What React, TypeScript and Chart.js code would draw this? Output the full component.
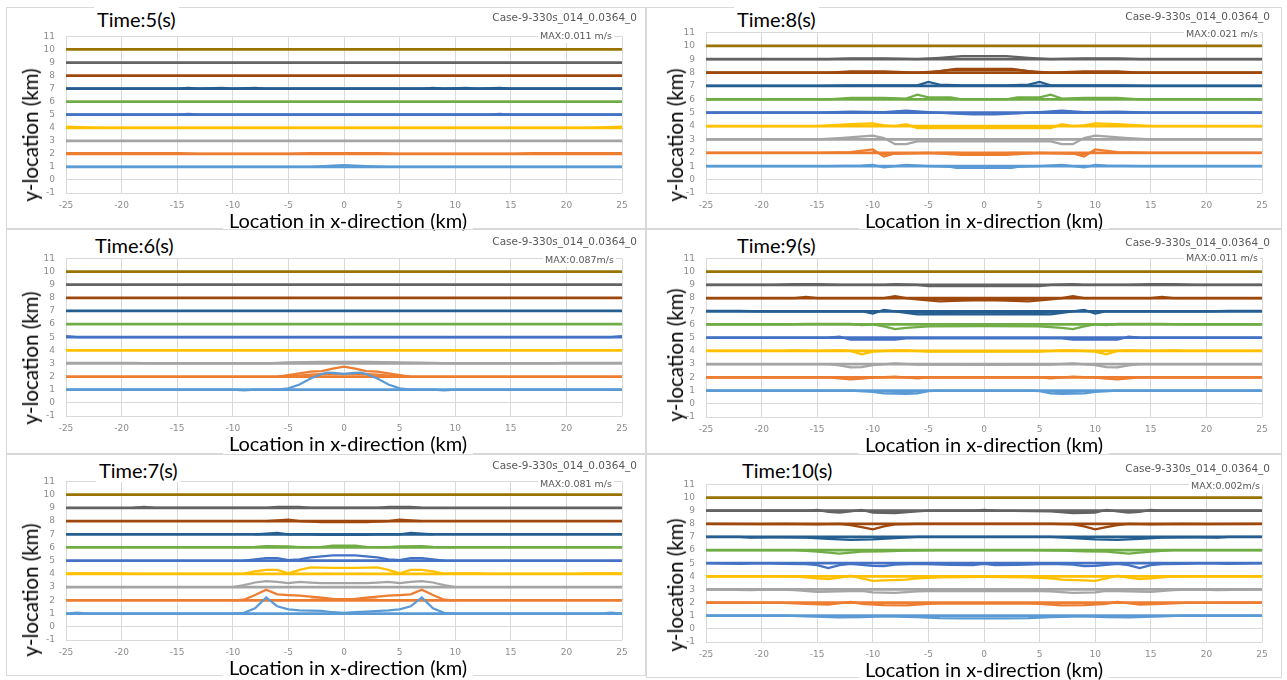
import React, { useEffect, useRef } from "react";
import { Chart, registerables } from "chart.js";
Chart.register(...registerables);

type Pt = [number, number];

// ---------- data ----------
const levels = [1, 2, 3, 4, 5, 6, 7, 8, 9, 10];
const levelColors = ["#5B9BD5", "#ED7D31", "#A5A5A5", "#FFC000", "#4472C4", "#70AD47", "#255E91", "#9E480E", "#636363", "#997300"];
const xMin = -25, xMax = 25, xStep = 5;
const yMin = -1, yMax = 11, yStep = 1;
const caseLabel = "Case-9-330s_014_0.0364_0";
const xTitle = "Location in x-direction (km)";
const yTitle = "y-location (km)";

// deformed interface curves for each level (index 0 = level 1)
const time5: Pt[][][] = [
  [[[-25, 1], [-3, 1], [-1, 1.1], [0, 1.13], [2, 1.06], [4, 1], [25, 1]]],
  [[[-25, 2.05], [-15, 2.05], [-13, 2], [-5, 2], [-3, 2.05], [3, 2.05], [5, 2], [15, 2], [17, 2.05], [25, 2.05]]],
  [],
  [[[-25, 4.08], [-22, 4], [22, 4], [25, 4.08]]],
  [[[-25, 5], [-15, 5], [-14, 5.06], [-13, 5], [13, 5], [14, 5.06], [15, 5], [25, 5]]],
  [],
  [[[-25, 7], [-15, 7], [-14, 7.06], [-13, 7], [-11, 7.06], [-10, 7], [-8, 7.06], [-7, 7], [7, 7], [8, 7.06], [9, 7], [11, 7.06], [12, 7], [14, 7.06], [15, 7], [25, 7]]],
  [],
  [],
  [],
];

const time6: Pt[][][] = [
  [[[-25, 1], [-10, 1], [-9, 0.96], [-8, 1], [-6, 1], [-5, 1.1], [-4, 1.4], [-3, 1.85], [-2, 2.2], [-1.5, 2.3], [-1, 2.28], [0, 2.2], [1, 2.28], [1.5, 2.3], [2, 2.2], [3, 1.85], [4, 1.4], [5, 1.1], [6, 1], [8, 1], [9, 0.96], [10, 1], [25, 1]]],
  [
    [[-6, 2], [-5, 2.12], [-3, 2.38], [-2, 2.42], [-1, 2.6], [0, 2.75], [1, 2.6], [2, 2.42], [3, 2.38], [5, 2.12], [6, 2]],
    [[-5, 2], [-3, 2.15], [-1, 2.22], [0, 2.18], [1, 2.22], [3, 2.15], [5, 2]],
  ],
  [[[-25, 3.05], [-19, 3.05], [-17, 3], [-7, 3], [-5, 3.08], [-2, 3.12], [0, 3.12], [2, 3.12], [5, 3.08], [8, 3.05], [10, 3], [18, 3], [20, 3.05], [25, 3.05]]],
  [],
  [[[-25, 5.08], [-24, 5], [24, 5], [25, 5.08]]],
  [],
  [],
  [],
  [],
  [],
];

const time7: Pt[][][] = [
  [[[-25, 1], [-24, 1.08], [-23, 1], [-10, 1], [-9, 1.05], [-8, 1.4], [-7, 2.22], [-6, 1.55], [-5, 1.32], [-4, 1.25], [-2, 1.2], [-1, 1.1], [0, 1.05], [1, 1.1], [2, 1.15], [4, 1.25], [5, 1.32], [6, 1.55], [7, 2.22], [8, 1.4], [9, 1.05], [10, 1], [23, 1], [24, 1.08], [25, 1]]],
  [
    [[-10, 2], [-9, 2.05], [-8, 2.4], [-7, 2.8], [-6, 2.45], [-5, 2.4], [-4, 2.35], [-2, 2.2], [-1, 2.12], [0, 2.1], [1, 2.12], [2, 2.2], [4, 2.35], [5, 2.4], [6, 2.45], [7, 2.8], [8, 2.4], [9, 2.05], [10, 2]],
    [[-3, 2.05], [-1, 2.08], [1, 2.08], [3, 2.05]],
  ],
  [[[-10, 3], [-9, 3.15], [-8, 3.35], [-7, 3.45], [-6, 3.4], [-5, 3.3], [-4, 3.4], [-3, 3.35], [-2, 3.3], [0, 3.3], [2, 3.3], [3, 3.35], [4, 3.4], [5, 3.3], [6, 3.4], [7, 3.45], [8, 3.35], [9, 3.15], [10, 3]]],
  [[[-25, 4.05], [-20, 4.05], [-19, 4], [-10, 4], [-9, 4.02], [-8, 4.2], [-7, 4.3], [-6, 4.3], [-5, 4.05], [-4, 4.3], [-3, 4.5], [-1, 4.45], [0, 4.45], [1, 4.45], [3, 4.5], [4, 4.3], [5, 4.05], [6, 4.3], [7, 4.3], [8, 4.2], [9, 4.02], [10, 4.05], [12, 4.05], [13, 4], [21, 4], [22, 4.05], [25, 4.05]]],
  [[[-9, 5], [-7, 5.2], [-6, 5.2], [-5, 5.05], [-4, 5.1], [-3, 5.25], [-1, 5.4], [0, 5.4], [1, 5.4], [3, 5.25], [4, 5.1], [5, 5.05], [6, 5.2], [7, 5.2], [9, 5]]],
  [[[-10, 6], [-8, 6.05], [-7, 6.1], [-5, 6.08], [-4, 6.03], [-2, 6.05], [-1, 6.15], [1, 6.15], [2, 6.05], [4, 6.03], [5, 6.08], [7, 6.1], [8, 6.05], [10, 6]]],
  [[[-8, 7], [-6, 7.1], [-5, 7], [-3, 7], [-2, 6.95], [2, 6.95], [3, 7], [5, 7], [6, 7.1], [8, 7]]],
  [[[-7, 8], [-5, 8.1], [-4, 8], [-2, 7.92], [2, 7.92], [4, 8], [5, 8.1], [7, 8]]],
  [[[-19, 9], [-18, 9.08], [-17, 9], [-7, 9], [-6, 9.08], [-4, 9.08], [-3, 9], [3, 9], [4, 9.08], [6, 9.08], [7, 9]]],
  [],
];

const time8: Pt[][][] = [
  [
    [[-25, 1], [-14, 1], [-11, 1.05], [-10, 1.1], [-9, 0.92], [-8, 1.0], [-7, 1.1], [-5, 1.0], [-3, 0.95], [-2.5, 0.88], [2.5, 0.88], [3, 0.95], [5, 1], [7, 1.1], [8, 1.0], [9, 0.92], [10, 1.1], [11, 1.05], [14, 1], [25, 1]],
    [[-3, 1], [0, 0.95], [3, 1]],
  ],
  [
    [[-25, 2], [-15, 2], [-12, 2.05], [-10, 2.25], [-9, 1.72], [-8, 1.95], [-5, 2.0], [-2, 1.85], [2, 1.85], [5, 2.0], [8, 1.95], [9, 1.72], [10, 2.25], [12, 2.05], [15, 2], [25, 2]],
    [[-10, 2.1], [-9, 1.9], [-7, 1.97], [-3, 2.0], [0, 1.95], [3, 2.0], [7, 1.97], [9, 1.9], [10, 2.1]],
  ],
  [[[-25, 3], [-15, 3], [-13, 3.1], [-10, 3.28], [-9, 3.1], [-8, 2.65], [-7, 2.65], [-6, 2.85], [6, 2.85], [7, 2.65], [8, 2.65], [9, 3.1], [10, 3.28], [13, 3.1], [15, 3], [25, 3]]],
  [[[-25, 4], [-15, 4], [-12, 4.15], [-10, 4.2], [-9, 4.05], [-8, 4.0], [-7, 4.15], [-6, 3.85], [6, 3.85], [7, 4.15], [8, 4.0], [9, 4.05], [10, 4.2], [12, 4.15], [15, 4], [25, 4]]],
  [[[-25, 5], [-15, 5], [-12, 5.08], [-9, 5.05], [-7, 5.15], [-5, 5.05], [-3, 4.95], [-1, 4.88], [1, 4.88], [3, 4.95], [5, 5.05], [7, 5.15], [9, 5.05], [12, 5.08], [15, 5], [25, 5]]],
  [[[-25, 6], [-14, 6], [-12, 6.1], [-9, 6.1], [-7, 6.05], [-6, 6.35], [-5, 6.15], [-3, 6.15], [-2, 6], [2, 6], [3, 6.15], [5, 6.15], [6, 6.35], [7, 6.05], [9, 6.1], [12, 6.1], [14, 6], [25, 6]]],
  [[[-25, 7], [-15, 7], [-12, 7.05], [-9, 7.05], [-6, 7.05], [-5, 7.3], [-4, 7.1], [-2, 7.05], [2, 7.05], [4, 7.1], [5, 7.3], [6, 7.05], [9, 7.05], [12, 7.05], [15, 7], [25, 7]]],
  [
    [[-25, 8], [-14, 8], [-12, 8.08], [-9, 8.08], [-6, 8.0], [-4, 8.1], [-2.5, 8.28], [2.5, 8.28], [4, 8.1], [6, 8], [9, 8.08], [12, 8.08], [14, 8], [25, 8]],
    [[-5, 8], [-3, 8.2], [3, 8.2], [5, 8]],
  ],
  [[[-25, 9], [-14, 9], [-12, 9.05], [-9, 9.05], [-6, 9], [-4, 9.1], [-2, 9.22], [2, 9.22], [4, 9.1], [6, 9], [9, 9.05], [12, 9.05], [14, 9], [25, 9]]],
  [],
];

const time9: Pt[][][] = [
  [
    [[-25, 1], [-12, 1], [-10, 0.9], [-9, 0.78], [-7, 0.75], [-6, 0.78], [-5, 0.95], [-4, 1], [4, 1], [5, 0.95], [6, 0.78], [7, 0.75], [9, 0.78], [10, 0.9], [12, 1], [25, 1]],
    [[-10, 0.95], [-7, 0.88], [-5, 0.98]],
    [[5, 0.98], [7, 0.88], [10, 0.95]],
  ],
  [[[-25, 2], [-14, 2], [-12, 1.85], [-11, 1.9], [-10, 1.98], [-8, 2.05], [-6, 1.92], [-5, 2], [5, 2], [6, 1.92], [8, 2.05], [10, 1.98], [11, 1.9], [12, 1.85], [14, 2], [25, 2]]],
  [[[-25, 3], [-14, 3], [-13, 2.9], [-12, 2.75], [-11, 2.78], [-10, 2.93], [-8, 3.05], [-6, 2.97], [0, 2.95], [6, 2.97], [8, 3.05], [10, 2.93], [11, 2.78], [12, 2.75], [13, 2.9], [14, 3], [25, 3]]],
  [[[-25, 4], [-18, 4], [-17, 4.05], [-15, 4], [-13, 4.05], [-12, 4.0], [-11, 3.75], [-10, 3.95], [-8, 4.05], [-7, 4.05], [-5, 3.95], [0, 3.95], [5, 3.95], [7, 4.05], [8, 4.05], [10, 3.95], [11, 3.75], [12, 4.0], [13, 4.05], [15, 4], [17, 4.05], [18, 4], [25, 4]]],
  [[[-25, 4.98], [-14, 5], [-13, 5.08], [-12, 4.85], [-8, 4.85], [-7, 4.95], [7, 4.95], [8, 4.85], [12, 4.85], [13, 5.08], [14, 5], [25, 4.98]]],
  [[[-25, 6], [-18, 6], [-16, 6.05], [-12, 6.05], [-11, 5.95], [-10, 6.0], [-9, 5.85], [-8, 5.65], [-7, 5.75], [-5, 5.85], [0, 5.87], [5, 5.85], [7, 5.75], [8, 5.65], [9, 5.85], [10, 6.0], [11, 5.95], [12, 6.05], [16, 6.05], [18, 6], [25, 6]]],
  [
    [[-25, 7.03], [-22, 7.03], [-20, 7], [-11, 7], [-10, 6.82], [-9, 7.1], [-8, 7.0], [-6, 6.76], [6, 6.76], [8, 7.0], [9, 7.1], [10, 6.82], [11, 7], [20, 7], [22, 7.03], [25, 7.03]],
    [[-7, 6.95], [-5, 6.88], [0, 6.9], [5, 6.88], [7, 6.95]],
  ],
  [
    [[-25, 8], [-17, 8], [-16, 8.08], [-15, 8], [-9, 8], [-8, 8.15], [-7, 8.0], [-6, 7.9], [-4, 7.75], [-2, 7.8], [0, 7.85], [2, 7.8], [4, 7.75], [6, 7.9], [7, 8], [8, 8.15], [9, 8], [15, 8], [16, 8.08], [17, 8], [25, 8]],
    [[-6, 8], [-3, 7.88], [3, 7.88], [6, 8]],
  ],
  [[[-25, 9], [-19, 9], [-17, 9.05], [-15, 9.05], [-13, 9], [-9, 9], [-8, 9.05], [-6, 9], [-5, 8.9], [5, 8.9], [6, 9], [8, 9.05], [9, 9], [13, 9], [15, 9.05], [17, 9.05], [19, 9], [25, 9]]],
  [],
];

const time10: Pt[][][] = [
  [[[-25, 1], [-18, 1], [-16, 0.95], [-13, 0.88], [-11, 0.9], [-9, 0.95], [-6, 0.9], [-4, 0.82], [-2, 0.8], [2, 0.8], [4, 0.82], [6, 0.9], [9, 0.95], [11, 0.9], [13, 0.88], [16, 0.95], [18, 1], [25, 1]]],
  [[[-25, 2], [-18, 1.97], [-16, 1.9], [-14, 1.85], [-12, 2.05], [-11, 1.9], [-9, 1.8], [-7, 1.78], [-5, 1.9], [-3, 1.95], [0, 1.93], [3, 1.95], [5, 1.9], [7, 1.78], [9, 1.8], [11, 1.9], [12, 2.05], [14, 1.85], [16, 1.9], [18, 1.97], [25, 2]]],
  [[[-25, 3], [-21, 2.95], [-19, 3], [-17, 2.95], [-15, 2.82], [-13, 2.85], [-11, 2.9], [-10, 2.78], [-8, 2.75], [-6, 2.85], [-4, 2.9], [0, 2.88], [4, 2.9], [6, 2.85], [8, 2.75], [10, 2.78], [11, 2.9], [13, 2.85], [15, 2.82], [17, 2.95], [19, 3], [21, 2.95], [25, 3]]],
  [[[-25, 4], [-17, 4], [-15, 3.85], [-14, 3.78], [-13, 3.9], [-12, 4.05], [-11, 3.85], [-10, 3.65], [-9, 3.7], [-7, 3.75], [-6, 3.85], [-4, 3.92], [0, 3.95], [4, 3.92], [6, 3.85], [7, 3.75], [9, 3.7], [10, 3.65], [11, 3.85], [12, 4.05], [13, 3.9], [14, 3.78], [15, 3.85], [17, 4], [25, 4]]],
  [[[-25, 5], [-22, 4.95], [-20, 5], [-18, 4.95], [-16, 4.93], [-15, 4.85], [-14, 4.62], [-13, 4.85], [-12, 4.95], [-10, 4.8], [-9, 4.78], [-8, 4.9], [-6, 4.95], [-3, 4.88], [-1, 4.85], [0, 4.95], [1, 4.85], [3, 4.88], [6, 4.95], [8, 4.9], [9, 4.78], [10, 4.8], [12, 4.95], [13, 4.85], [14, 4.62], [15, 4.85], [16, 4.93], [18, 4.95], [20, 5], [22, 4.95], [25, 5]]],
  [[[-25, 6], [-17, 6], [-15, 5.88], [-13, 5.72], [-11, 5.88], [-9, 5.9], [-7, 5.95], [-4, 6], [4, 6], [7, 5.95], [9, 5.9], [11, 5.88], [13, 5.72], [15, 5.88], [17, 6], [25, 6]]],
  [[[-25, 7], [-22, 7], [-21, 6.95], [-19, 6.97], [-16, 6.95], [-14, 6.85], [-12, 6.78], [-10, 6.82], [-8, 6.9], [-6, 7], [6, 7], [8, 6.9], [10, 6.82], [12, 6.78], [14, 6.85], [16, 6.95], [19, 6.97], [21, 6.95], [22, 7], [25, 7]]],
  [[[-25, 8], [-20, 7.97], [-18, 8], [-15, 7.95], [-13, 8], [-12, 7.9], [-11, 7.75], [-10, 7.58], [-9, 7.8], [-8, 7.95], [-6, 8], [6, 8], [8, 7.95], [9, 7.8], [10, 7.58], [11, 7.75], [12, 7.9], [13, 8], [15, 7.95], [18, 8], [20, 7.97], [25, 8]]],
  [[[-25, 9], [-16, 9], [-15, 9.06], [-14, 8.9], [-13, 8.85], [-12, 8.95], [-11, 9.06], [-10, 8.85], [-8, 8.82], [-6, 8.95], [-5, 9], [-1, 9], [0, 9.06], [1, 9], [6, 8.95], [8, 8.82], [10, 8.85], [11, 9.06], [12, 8.95], [13, 8.85], [14, 8.9], [15, 9.06], [16, 9], [25, 9]]],
  [],
];

// ---------- layout ----------
type PanelCfg = {
  title: string; maxText: string; data: Pt[][][];
  L: number; R: number; T: number; B: number;
  boxL: number; boxT: number; boxW: number; boxH: number;
  titleX: number; titleY: number; caseR: number; caseY: number; maxR: number; maxY: number;
  yTitleX: number; yTitleY: number;
};

const panels: PanelCfg[] = [
  { title: "Time:5(s)", maxText: "MAX:0.011 m/s", data: time5, L: 66, R: 622, T: 29.5, B: 193, boxL: 6, boxT: 7, boxW: 640, boxH: 222, titleX: 97, titleY: 19, caseR: 637, caseY: 17, maxR: 614, maxY: 36, yTitleX: 30, yTitleY: 135 },
  { title: "Time:8(s)", maxText: "MAX:0.021 m/s", data: time8, L: 706, R: 1262, T: 26, B: 193, boxL: 646, boxT: 7, boxW: 636, boxH: 222, titleX: 737, titleY: 19, caseR: 1270, caseY: 16, maxR: 1260, maxY: 34, yTitleX: 675, yTitleY: 135 },
  { title: "Time:6(s)", maxText: "MAX:0.087m/s", data: time6, L: 66, R: 622, T: 252, B: 416, boxL: 6, boxT: 229, boxW: 640, boxH: 225, titleX: 95, titleY: 245, caseR: 637, caseY: 241, maxR: 616, maxY: 260, yTitleX: 30, yTitleY: 358 },
  { title: "Time:9(s)", maxText: "MAX:0.011 m/s", data: time9, L: 706, R: 1262, T: 252, B: 417, boxL: 646, boxT: 229, boxW: 636, boxH: 225, titleX: 737, titleY: 245, caseR: 1270, caseY: 242, maxR: 1260, maxY: 258, yTitleX: 675, yTitleY: 355 },
  { title: "Time:7(s)", maxText: "MAX:0.081 m/s", data: time7, L: 66, R: 622, T: 475, B: 640, boxL: 6, boxT: 454, boxW: 640, boxH: 222, titleX: 99, titleY: 470, caseR: 637, caseY: 465, maxR: 614, maxY: 484, yTitleX: 30, yTitleY: 590 },
  { title: "Time:10(s)", maxText: "MAX:0.002m/s", data: time10, L: 706, R: 1262, T: 478, B: 642, boxL: 646, boxT: 454, boxW: 636, boxH: 224, titleX: 742, titleY: 470, caseR: 1270, caseY: 468, maxR: 1262, maxY: 486, yTitleX: 675, yTitleY: 585 },
];

const YW = 40, XH = 25, PT = 10, PR = 14;
const gridColor = "#D9D9D9";
const tickFont = { family: "DejaVu Sans", size: 9 };
const tickColor = "#8c8c8c";
const titleFont = "Lato, 'Open Sans', sans-serif";

function PanelChart({ cfg }: { cfg: PanelCfg }) {
  const ref = useRef<HTMLCanvasElement>(null);
  const w = cfg.R - cfg.L + YW + PR;
  const h = cfg.B - cfg.T + PT + XH;
  useEffect(() => {
    const datasets: any[] = [];
    levels.forEach((lv, i) => {
      const base = { borderColor: levelColors[i], borderWidth: 2.75, pointRadius: 0, showLine: true, tension: 0, fill: false };
      datasets.push({ ...base, data: [{ x: xMin, y: lv }, { x: xMax, y: lv }] });
      (cfg.data[i] || []).forEach((curve) => {
        datasets.push({ ...base, borderWidth: 2.25, data: curve.map(([x, y]) => ({ x, y })) });
      });
    });
    const chart = new Chart(ref.current as HTMLCanvasElement, {
      type: "scatter",
      data: { datasets },
      options: {
        animation: false,
        responsive: false,
        events: [],
        layout: { padding: { top: PT, right: PR, left: 0, bottom: 0 } },
        plugins: { legend: { display: false }, tooltip: { enabled: false } },
        scales: {
          x: {
            type: "linear", min: xMin, max: xMax,
            ticks: { stepSize: xStep, font: tickFont, color: tickColor, padding: 7, maxRotation: 0, autoSkip: false },
            grid: { color: gridColor, drawTicks: false, lineWidth: 1 },
            border: { display: false },
            afterFit: (s: any) => { s.height = XH; },
          },
          y: {
            type: "linear", min: yMin, max: yMax,
            ticks: { stepSize: yStep, font: tickFont, color: tickColor, padding: 11, autoSkip: false },
            grid: { color: gridColor, drawTicks: false, lineWidth: 1 },
            border: { display: false },
            afterFit: (s: any) => { s.width = YW; },
          },
        },
      } as any,
    });
    return () => chart.destroy();
  }, []);
  return (
    <canvas ref={ref} width={w} height={h}
      style={{ position: "absolute", left: cfg.L - YW, top: cfg.T - PT, width: w, height: h }} />
  );
}

function Panel({ cfg }: { cfg: PanelCfg }) {
  const cx = (cfg.L + cfg.R) / 2 + (cfg.L < 300 ? 4 : 0);
  return (
    <>
      <div style={{ position: "absolute", left: cfg.boxL, top: cfg.boxT, width: cfg.boxW, height: cfg.boxH, border: "1px solid #D9D9D9", boxSizing: "border-box" }} />
      <PanelChart cfg={cfg} />
      <div style={{ position: "absolute", left: cfg.titleX - 3, top: cfg.titleY - 12, height: 24, lineHeight: "24px", padding: "0 3px", background: "#fff", fontFamily: titleFont, fontSize: 20, color: "#000", whiteSpace: "nowrap" }}>{cfg.title}</div>
      <div style={{ position: "absolute", right: 1287 - cfg.caseR, top: cfg.caseY - 7, lineHeight: "14px", fontFamily: "DejaVu Sans", fontSize: 10.5, color: "#595959", whiteSpace: "nowrap", background: "#fff" }}>{caseLabel}</div>
      <div style={{ position: "absolute", right: 1287 - cfg.maxR, top: cfg.maxY - 7, lineHeight: "14px", fontFamily: "DejaVu Sans", fontSize: 9.5, color: "#595959", whiteSpace: "nowrap", background: "#fff", padding: "0 2px" }}>{cfg.maxText}</div>
      <div style={{ position: "absolute", left: cx, top: cfg.B + 27, transform: "translate(-50%, -50%)", lineHeight: "22px", padding: "0 6px", background: "#fff", fontFamily: titleFont, fontSize: 20, color: "#000", whiteSpace: "nowrap" }}>{xTitle}</div>
      <div style={{ position: "absolute", left: cfg.yTitleX, top: cfg.yTitleY, transform: "translate(-50%, -50%) rotate(-90deg)", lineHeight: "24px", fontFamily: titleFont, fontSize: 20.5, color: "#000", whiteSpace: "nowrap" }}>{yTitle}</div>
    </>
  );
}

export default function App() {
  useEffect(() => {
    document.body.style.margin = "0";
  }, []);
  return (
    <div style={{ position: "absolute", left: 0, top: 0, width: 1287, height: 680, background: "#fff", overflow: "hidden" }}>
      {panels.map((p, i) => <Panel key={i} cfg={p} />)}
    </div>
  );
}
